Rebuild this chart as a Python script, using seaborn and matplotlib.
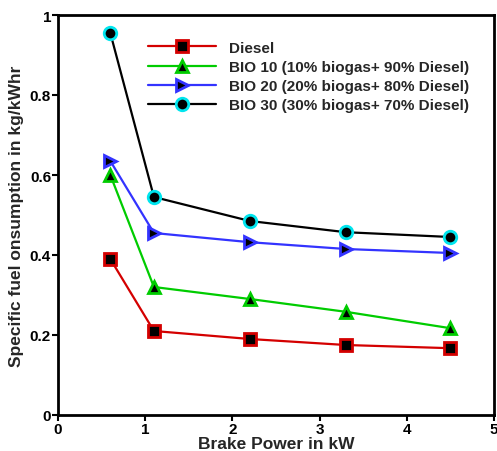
import matplotlib
matplotlib.use("Agg")
import matplotlib.pyplot as plt
import seaborn as sns
import pandas as pd

power = [0.6, 1.1, 2.2, 3.3, 4.5]
diesel = [0.39, 0.21, 0.19, 0.175, 0.167]
bio10 = [0.60, 0.32, 0.29, 0.258, 0.217]
bio20 = [0.635, 0.455, 0.432, 0.415, 0.405]
bio30 = [0.955, 0.545, 0.485, 0.457, 0.445]
labels = ["Diesel", "BIO 10 (10% biogas+ 90% Diesel)",
          "BIO 20 (20% biogas+ 80% Diesel)", "BIO 30 (30% biogas+ 70% Diesel)"]

sns.set_theme(style="ticks")
plt.rcParams['font.family'] = ['Liberation Sans', 'DejaVu Sans']
plt.rcParams['font.weight'] = 'bold'

rows = []
for lab, vals in zip(labels, [diesel, bio10, bio20, bio30]):
    for x, y in zip(power, vals):
        rows.append({"power": x, "sfc": y, "series": lab})
df = pd.DataFrame(rows)

line_colors = ["#D40000", "#00CC00", "#3333FF", "#000000"]
edge_colors = ["#D40000", "#00CC00", "#3333FF", "#00E5EE"]
markers = ["s", "^", ">", "o"]

fig = plt.figure(figsize=(4.97, 4.52), dpi=100)
ax = fig.add_axes([58/497, 36/452, 436/497, 400/452])

for lab, lc, ec, mk in zip(labels, line_colors, edge_colors, markers):
    sns.lineplot(data=df[df.series == lab], x="power", y="sfc", ax=ax,
                 color=lc, marker=mk, markersize=9, markerfacecolor="black",
                 markeredgecolor=ec, markeredgewidth=2, linewidth=1.6, label=lab)

ax.set_xlim(0, 5)
ax.set_ylim(0, 1)
ax.set_xticks([0, 1, 2, 3, 4, 5])
ax.set_yticks([0, 0.2, 0.4, 0.6, 0.8, 1])
ax.set_yticklabels(["0", "0.2", "0.4", "0.6", "0.8", "1"])
for s in ax.spines.values():
    s.set_linewidth(2)
    s.set_color("black")
ax.tick_params(axis="both", direction="out", length=4, width=1.5, labelsize=11, pad=1, colors="black")
for t in ax.get_xticklabels() + ax.get_yticklabels():
    t.set_fontweight("bold")
ax.set_xlabel("Brake Power in kW", fontsize=12.5, fontweight="bold", labelpad=0)
ax.set_ylabel("Specific fuel onsumption in kg/kWhr", fontsize=12.5, fontweight="bold", labelpad=4)

leg = ax.legend(loc="upper left", bbox_to_anchor=(0.174, 0.97), frameon=False,
                handlelength=4.5, handletextpad=0.8, labelspacing=0.34,
                prop={"weight": "bold", "size": 11})

fig.savefig("out.png", dpi=100)
